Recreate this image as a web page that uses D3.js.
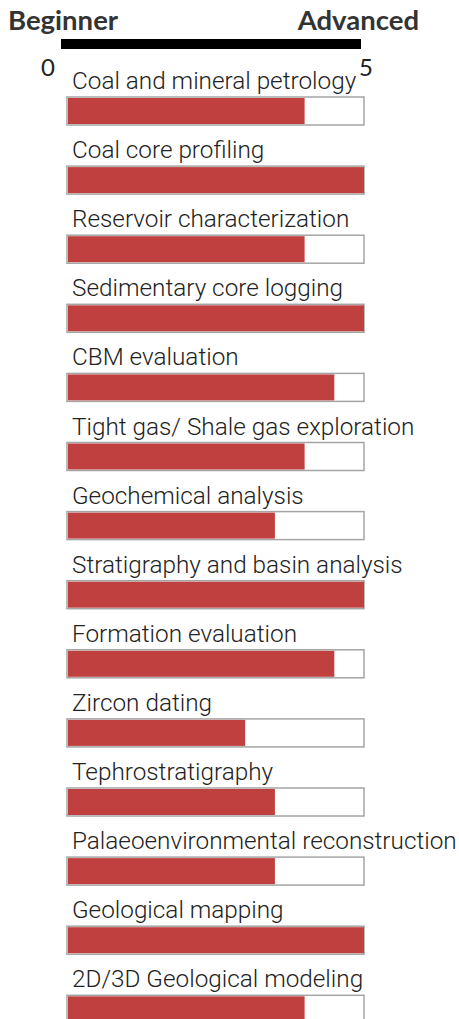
<!DOCTYPE html>
<html>
<head>
<meta charset="utf-8">
<script src="https://cdn.jsdelivr.net/npm/d3@7"></script>
<style>
  body { margin: 0; background: #fff; }
  svg { display: block; }
</style>
</head>
<body>
<div id="chart"></div>
<script>
// skill levels, 0 = beginner, 5 = advanced
var skills = [
  "Coal and mineral petrology",
  "Coal core profiling",
  "Reservoir characterization",
  "Sedimentary core logging",
  "CBM evaluation",
  "Tight gas/ Shale gas exploration",
  "Geochemical analysis",
  "Stratigraphy and basin analysis",
  "Formation evaluation",
  "Zircon dating",
  "Tephrostratigraphy",
  "Palaeoenvironmental reconstruction",
  "Geological mapping",
  "2D/3D Geological modeling"
];
var levels = [4, 5, 4, 5, 4.5, 4, 3.5, 5, 4.5, 3, 3.5, 3.5, 5, 4];
var scaleEnds = ["Beginner", "Advanced"];
var tickLabels = ["0", "5"];

var width = 459, height = 1019;

var svg = d3.select("#chart")
  .append("svg")
    .attr("width", width)
    .attr("height", height);

// header scale (black line) and bar scale are a bit offset in the original
var xHead = d3.scaleLinear().domain([0, 5]).range([61, 361]);
var x = d3.scaleLinear().domain([0, 5]).range([67, 364]);

var y = d3.scalePoint()
  .domain(skills)
  .range([97, 97 + 13 * 69.1]);

var barH = 28;

// header
svg.append("text")
  .attr("x", 8)
  .attr("y", 30)
  .style("font-family", "Lato")
  .style("font-weight", "700")
  .style("font-size", "27.5px")
  .style("fill", "#333")
  .text(scaleEnds[0]);

svg.append("text")
  .attr("x", 419)
  .attr("y", 30)
  .attr("text-anchor", "end")
  .style("font-family", "Lato")
  .style("font-weight", "700")
  .style("font-size", "27.5px")
  .style("fill", "#333")
  .text(scaleEnds[1]);

svg.append("rect")
  .attr("x", xHead(0))
  .attr("y", 39)
  .attr("width", xHead(5) - xHead(0))
  .attr("height", 10)
  .style("fill", "#000");

svg.append("text")
  .attr("x", xHead(0) - 13)
  .attr("y", 76)
  .attr("text-anchor", "middle")
  .style("font-family", "Lato")
  .style("font-size", "24px")
  .style("fill", "#222")
  .text(tickLabels[0]);

svg.append("text")
  .attr("x", xHead(5) + 5)
  .attr("y", 76)
  .attr("text-anchor", "middle")
  .style("font-family", "Lato")
  .style("font-size", "24px")
  .style("fill", "#222")
  .text(tickLabels[1]);

var rows = svg.selectAll(".row")
  .data(skills)
  .enter()
  .append("g")
    .attr("class", "row");

// labels
rows.append("text")
  .attr("x", x(0) + 5)
  .attr("y", function(d) { return y(d) - 8; })
  .style("font-family", "Roboto")
  .style("font-weight", "300")
  .style("font-size", "24.3px")
  .style("fill", "#222")
  .text(function(d) { return d; });

// empty track
rows.append("rect")
  .attr("x", x(0))
  .attr("y", function(d) { return y(d); })
  .attr("width", x(5) - x(0))
  .attr("height", barH)
  .style("fill", "#fff")
  .style("stroke", "#a5a5a5")
  .style("stroke-width", 1.5);

// filled level
rows.append("rect")
  .attr("x", x(0) + 1)
  .attr("y", function(d) { return y(d) + 1; })
  .attr("width", function(d, i) { return x(levels[i]) - x(0) - 1; })
  .attr("height", barH - 2)
  .style("fill", "#c04040");
</script>
</body>
</html>
